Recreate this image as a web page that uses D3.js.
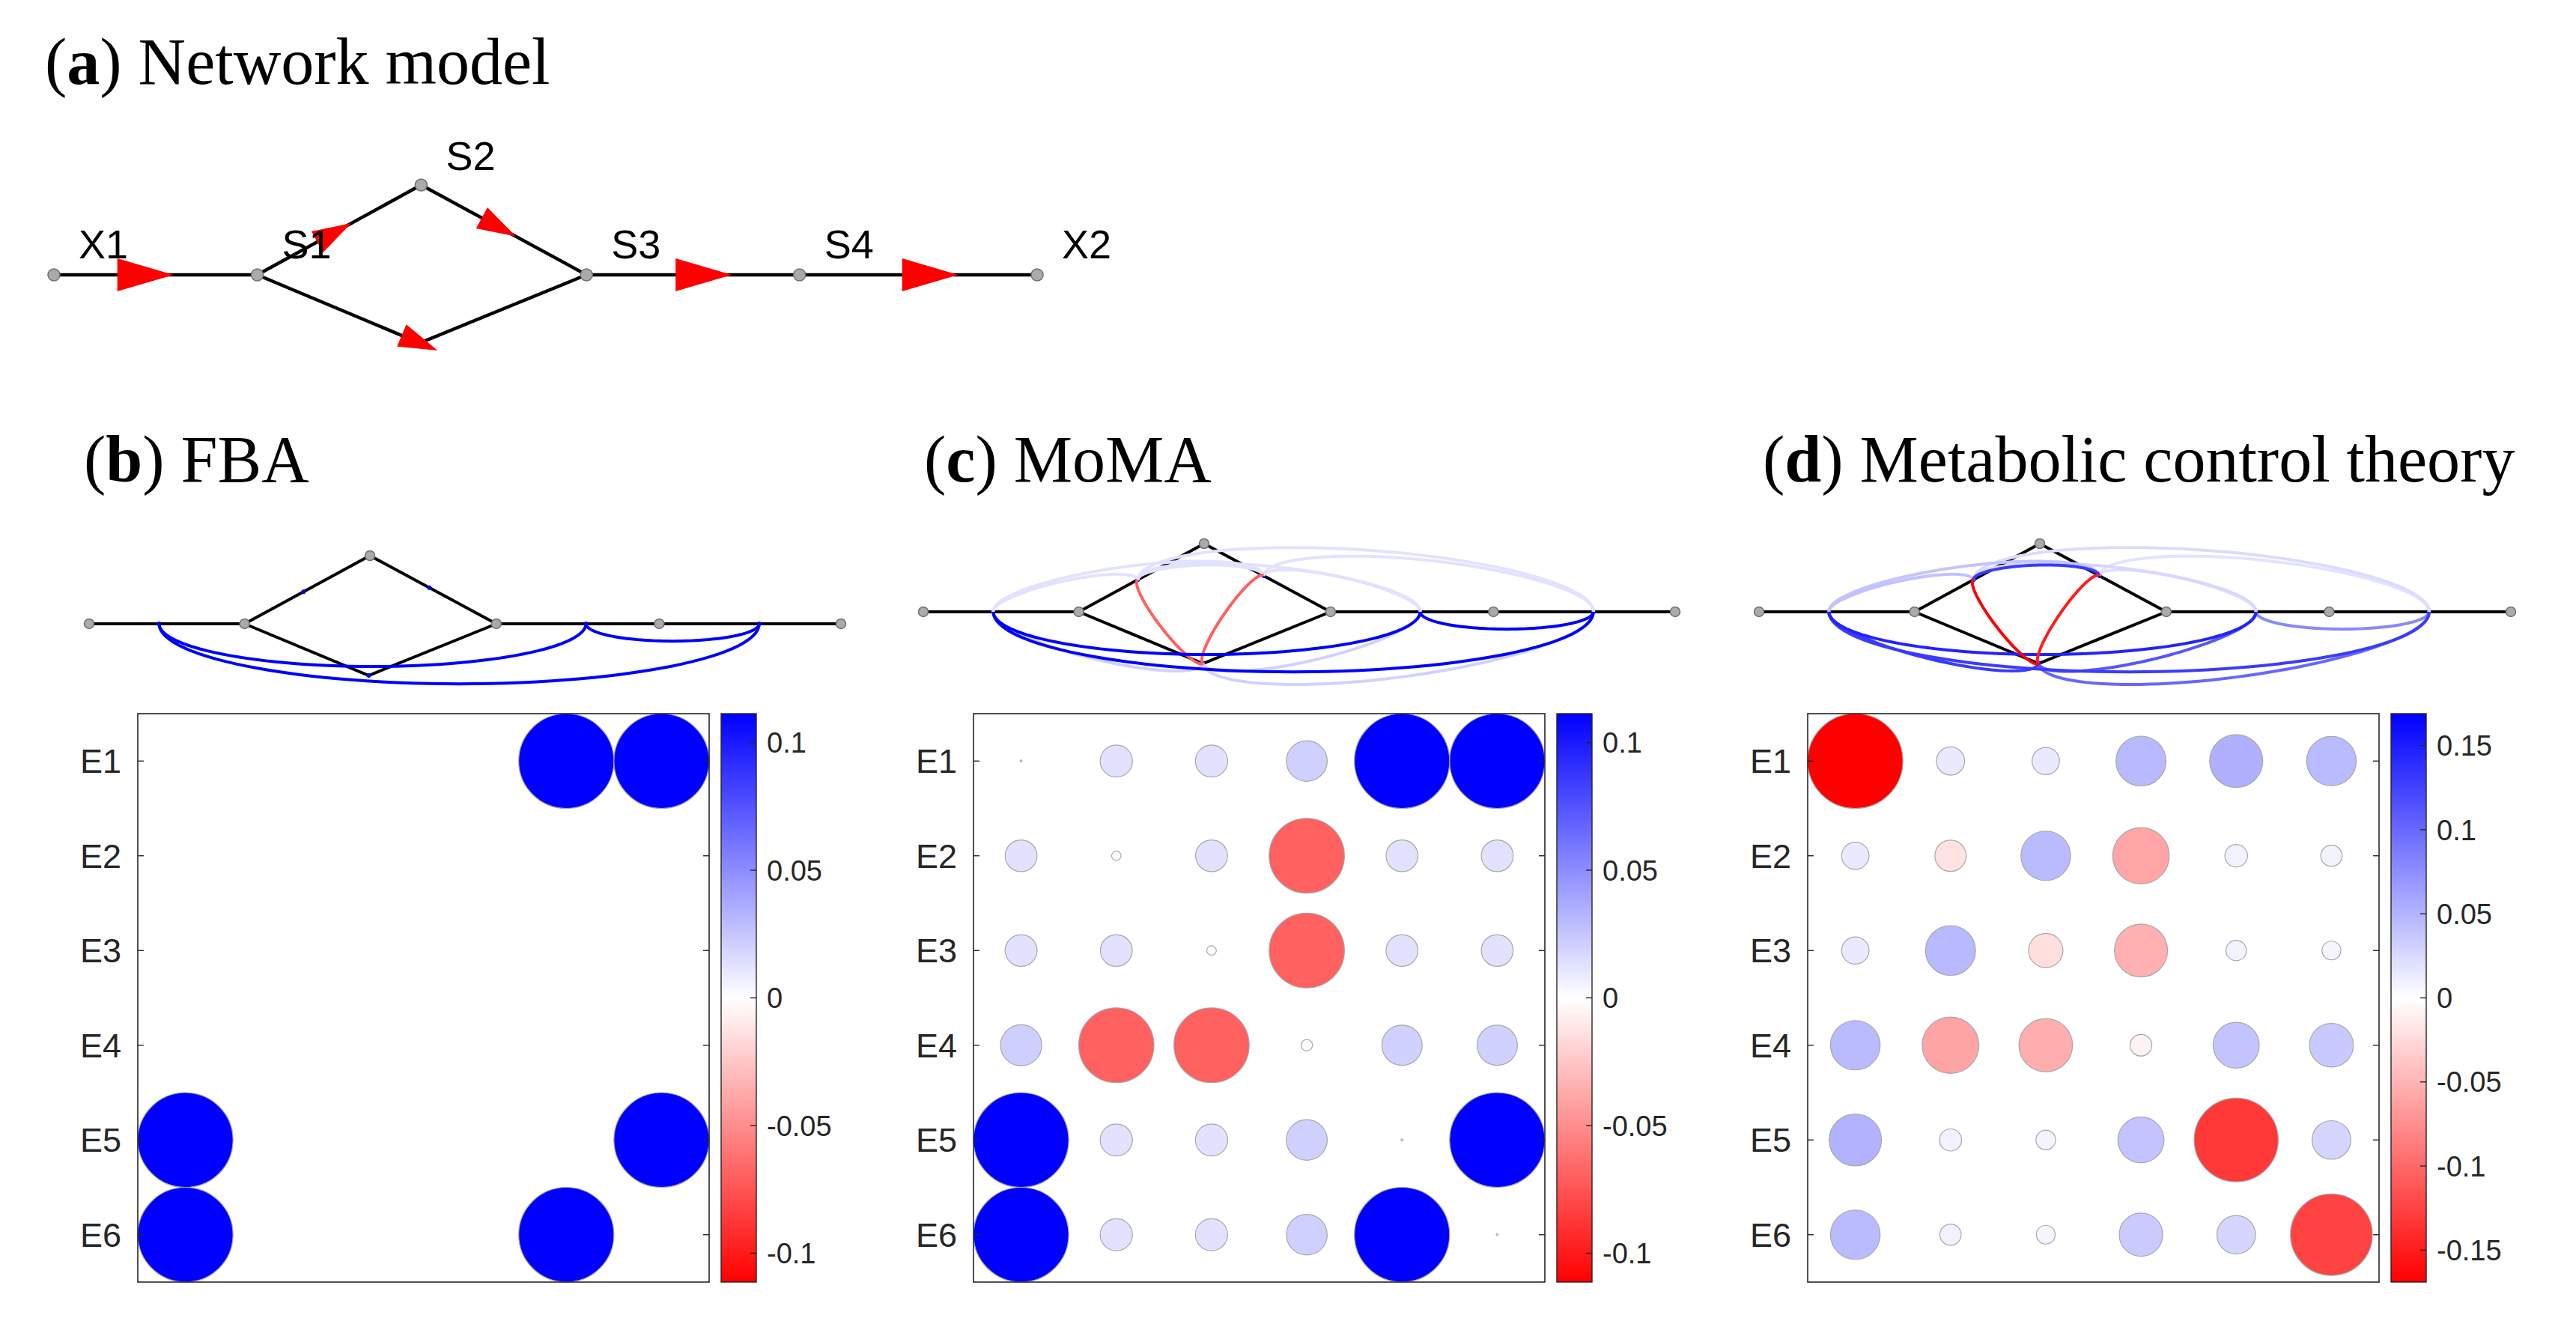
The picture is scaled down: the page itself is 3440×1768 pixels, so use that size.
<!DOCTYPE html>
<html>
<head>
<meta charset="utf-8">
<script src="https://cdn.jsdelivr.net/npm/d3@7"></script>
<style>
body { margin: 0; background: #fff; }
text { font-family: "Liberation Sans", Arial, sans-serif; }
.title { font-family: "Liberation Serif", "Times New Roman", serif; }
</style>
</head>
<body>
<svg id="fig" width="3440" height="1768"></svg>
<script>
// network layout (layout units, X1 at origin); B is the hidden bend of E4
var nodeNames = ["X1", "S1", "S2", "S3", "S4", "X2", "B"];
var nodeX = [0, 273, 493, 715, 1001, 1320, 491];
var nodeY = [0, 0, -120, 0, 0, 0, 91];
var nodeShown = [true, true, true, true, true, true, false];

var reactions = ["E1", "E2", "E3", "E4", "E5", "E6"];
var reactionPath = [["X1","S1"], ["S1","S2"], ["S2","S3"], ["S1","B","S3"], ["S3","S4"], ["S4","X2"]];
// where the arrow / arc anchor sits along the first segment of each reaction
var reactionPos = [0.45, 0.47, 0.47, 1, 0.55, 0.55];

// correlation matrices (rows E1..E6, columns E1..E6)
var fba = [
  [0, 0, 0, 0, 0.1113, 0.1113],
  [0, 0, 0, 0, 0, 0],
  [0, 0, 0, 0, 0, 0],
  [0, 0, 0, 0, 0, 0],
  [0.1113, 0, 0, 0, 0, 0.1113],
  [0.1113, 0, 0, 0, 0.1113, 0]
];
var moma = [
  [0.00005, 0.0128, 0.0128, 0.0205, 0.1113, 0.1113],
  [0.0125, 0.0011, 0.0125, -0.0695, 0.0125, 0.0125],
  [0.0125, 0.0125, 0.0011, -0.0695, 0.0125, 0.0125],
  [0.0209, -0.0695, -0.0695, 0.0016, 0.0200, 0.0200],
  [0.1113, 0.0128, 0.0128, 0.0205, 0.00005, 0.1113],
  [0.1113, 0.0128, 0.0128, 0.0205, 0.1113, 0.00005]
];
var mct = [
  [-0.169, 0.0149, 0.0140, 0.0467, 0.0526, 0.0459],
  [0.0140, -0.0183, 0.0460, -0.0597, 0.0096, 0.0085],
  [0.0140, 0.0467, -0.0220, -0.0526, 0.0078, 0.0066],
  [0.0460, -0.0600, -0.0535, -0.0088, 0.0397, 0.0360],
  [0.0509, 0.0092, 0.0072, 0.0397, -0.1316, 0.0280],
  [0.0460, 0.0085, 0.0066, 0.0353, 0.0278, -0.1250]
];
var climBC = 0.1113, climD = 0.169;
var ticksBC = [0.1, 0.05, 0, -0.05, -0.1];
var ticksD = [0.15, 0.1, 0.05, 0, -0.05, -0.1, -0.15];

var panelLetters = ["b", "c", "d"];
var panelNames = ["FBA", "MoMA", "Metabolic control theory"];

var svg = d3.select("#fig");
var ink = "#262626";

function redBlue(lim) {
  return d3.scaleLinear().domain([-lim, 0, lim]).range(["#ff0000", "#ffffff", "#0000ff"]).clamp(true);
}

function nodePt(name, sx, sy) {
  var i = nodeNames.indexOf(name);
  return [sx(nodeX[i]), sy(nodeY[i])];
}
function anchor(r, sx, sy) {
  var a = nodePt(reactionPath[r][0], sx, sy), b = nodePt(reactionPath[r][1], sx, sy), t = reactionPos[r];
  return [a[0] + (b[0] - a[0]) * t, a[1] + (b[1] - a[1]) * t];
}

function title(x, y, letter, name) {
  var t = svg.append("text").attr("class", "title").attr("x", x).attr("y", y)
    .attr("font-size", 88).attr("fill", "#000");
  t.append("tspan").text("(");
  t.append("tspan").attr("font-weight", "bold").text(letter);
  t.append("tspan").text(") " + name);
}

function drawEdges(g, sx, sy, w) {
  reactionPath.forEach(function(p) {
    g.append("path")
      .attr("d", d3.line()(p.map(function(n) { return nodePt(n, sx, sy); })))
      .attr("fill", "none").attr("stroke", "#000").attr("stroke-width", w)
      .attr("stroke-linejoin", "miter");
  });
}

function drawNodes(g, sx, sy, r) {
  g.selectAll("circle.node").data(nodeNames.filter(function(n, i) { return nodeShown[i]; }))
    .enter().append("circle").attr("class", "node")
    .attr("cx", function(n) { return nodePt(n, sx, sy)[0]; })
    .attr("cy", function(n) { return nodePt(n, sx, sy)[1]; })
    .attr("r", r).attr("fill", "#aaaaaa").attr("stroke", "#707070").attr("stroke-width", 1.5);
}

// ---------- (a) network model ----------
title(60, 112, "a", "Network model");
var axA = d3.scaleLinear().domain([0, 1320]).range([72, 1385]);
var ayA = d3.scaleLinear().domain([-120, 91]).range([247, 458]);
var gA = svg.append("g");
drawEdges(gA, axA, ayA, 4.5);
reactionPath.forEach(function(p, r) {
  var a = nodePt(p[0], axA, ayA), b = nodePt(p[1], axA, ayA);
  var dx = b[0] - a[0], dy = b[1] - a[1], L = Math.hypot(dx, dy), ux = dx / L, uy = dy / L;
  var c = anchor(r, axA, ayA);
  var big = Math.abs(uy) < 0.01;
  var len = big ? 75 : 52, hw = big ? 22 : 16;
  var pts = [
    [c[0] + ux * len / 2, c[1] + uy * len / 2],
    [c[0] - ux * len / 2 - uy * hw, c[1] - uy * len / 2 + ux * hw],
    [c[0] - ux * len / 2 + uy * hw, c[1] - uy * len / 2 - ux * hw]
  ];
  gA.append("path").attr("d", "M" + pts.join("L") + "Z").attr("fill", "#ff0000");
});
drawNodes(gA, axA, ayA, 8);
gA.selectAll("text.lab").data(nodeNames.filter(function(n, i) { return nodeShown[i]; }))
  .enter().append("text").attr("class", "lab")
  .attr("x", function(n) { return nodePt(n, axA, ayA)[0] + 33; })
  .attr("y", function(n) { return nodePt(n, axA, ayA)[1] - (n === "S2" ? 20 : 22); })
  .attr("font-size", 54).attr("fill", "#000")
  .text(function(n) { return n; });

// ---------- (b)(c)(d) ----------
var mats = [fba, moma, mct];
var clims = [climBC, climBC, climD];
var tickSets = [ticksBC, ticksBC, ticksD];
var frameX = [184, 1300, 2414];
var netX0 = [119, 1233, 2349];
var netY = [833, 817, 817];
var titleX = [112, 1234, 2354];
var frameTop = 953, frameH = 759, frameW = 763;

mats.forEach(function(M, k) {
  title(titleX[k], 643, panelLetters[k], panelNames[k]);

  // small network with coupling arcs
  var sx = d3.scaleLinear().domain([0, 1320]).range([netX0[k], netX0[k] + 1004]);
  var sy = d3.scaleLinear().domain([-120, 91]).range([netY[k] - 91, netY[k] + 69]);
  var g = svg.append("g");
  drawEdges(g, sx, sy, 4);

  var anchors = reactions.map(function(e, r) { return anchor(r, sx, sy); });
  var cen = [d3.mean(anchors, function(p) { return p[0]; }), d3.mean(anchors, function(p) { return p[1]; })];
  var pairs = [];
  for (var i = 0; i < 6; i++) for (var j = i + 1; j < 6; j++) {
    var v = (M[i][j] + M[j][i]) / 2;
    if (Math.abs(v) > 1e-4) pairs.push({i: i, j: j, v: v});
  }
  var amax = d3.max(pairs, function(p) { return Math.abs(p.v); });
  var arcCol = redBlue(amax);
  pairs.sort(function(a, b) { return Math.abs(a.v) - Math.abs(b.v); });

  g.selectAll("circle.anc").data(anchors).enter().append("circle")
    .attr("cx", function(p) { return p[0]; }).attr("cy", function(p) { return p[1]; })
    .attr("r", 3).attr("fill", "#0000ff");

  g.selectAll("path.arc").data(pairs).enter().append("path").attr("class", "arc")
    .attr("d", function(d) {
      var p = anchors[d.i], q = anchors[d.j];
      var dx = q[0] - p[0], dy = q[1] - p[1], L = Math.hypot(dx, dy);
      var ux = dx / L, uy = dy / L, nx = -uy, ny = ux;
      var mx = (p[0] + q[0]) / 2, my = (p[1] + q[1]) / 2;
      if (nx * (mx - cen[0]) + ny * (my - cen[1]) < 0) { nx = -nx; ny = -ny; }
      var a = L / 2, b = 0.2 * a;
      return d3.line()(d3.range(61).map(function(s) {
        var t = Math.PI * s / 60;
        return [mx - ux * a * Math.cos(t) + nx * b * Math.sin(t), my - uy * a * Math.cos(t) + ny * b * Math.sin(t)];
      }));
    })
    .attr("fill", "none").attr("stroke", function(d) { return arcCol(d.v); })
    .attr("stroke-width", 4);
  drawNodes(g, sx, sy, 6.5);

  // bubble matrix
  var clim = clims[k], col = redBlue(clim);
  var x = d3.scaleBand().domain(reactions).range([frameX[k], frameX[k] + frameW]);
  var y = d3.scaleBand().domain(reactions).range([frameTop, frameTop + frameH]);
  var size = d3.scaleSqrt().domain([0, clim]).range([0, 1]).clamp(true);
  var cells = [];
  M.forEach(function(row, r) { row.forEach(function(v, c) { if (v !== 0) cells.push({r: r, c: c, v: v}); }); });

  var gm = svg.append("g");
  gm.selectAll("ellipse").data(cells).enter().append("ellipse")
    .attr("cx", function(d) { return x(reactions[d.c]) + x.bandwidth() / 2; })
    .attr("cy", function(d) { return y(reactions[d.r]) + y.bandwidth() / 2; })
    .attr("rx", function(d) { return size(Math.abs(d.v)) * x.bandwidth() / 2; })
    .attr("ry", function(d) { return size(Math.abs(d.v)) * y.bandwidth() / 2; })
    .attr("fill", function(d) { return col(d.v); })
    .attr("stroke", "#a8a8a8").attr("stroke-width", 1.2);

  gm.append("rect").attr("x", frameX[k]).attr("y", frameTop).attr("width", frameW).attr("height", frameH)
    .attr("fill", "none").attr("stroke", ink).attr("stroke-width", 1.6);

  reactions.forEach(function(e) {
    var yy = y(e) + y.bandwidth() / 2;
    gm.append("line").attr("x1", frameX[k]).attr("x2", frameX[k] + 8).attr("y1", yy).attr("y2", yy)
      .attr("stroke", ink).attr("stroke-width", 1.4);
    gm.append("line").attr("x1", frameX[k] + frameW - 8).attr("x2", frameX[k] + frameW).attr("y1", yy).attr("y2", yy)
      .attr("stroke", ink).attr("stroke-width", 1.4);
    gm.append("text").attr("x", frameX[k] - 22).attr("y", yy).attr("dy", "0.36em")
      .attr("text-anchor", "end").attr("font-size", 45).attr("fill", ink).text(e);
  });

  // colorbar
  var cbX = frameX[k] + frameW + 16, cbW = 47;
  var gradId = "grad" + k;
  var grad = svg.append("defs").append("linearGradient").attr("id", gradId)
    .attr("x1", 0).attr("y1", 1).attr("x2", 0).attr("y2", 0);
  d3.range(0, 1.0001, 0.05).forEach(function(t) {
    grad.append("stop").attr("offset", t).attr("stop-color", col(-clim + 2 * clim * t));
  });
  var cy = d3.scaleLinear().domain([-clim, clim]).range([frameTop + frameH, frameTop]);
  gm.append("rect").attr("x", cbX).attr("y", frameTop).attr("width", cbW).attr("height", frameH)
    .attr("fill", "url(#" + gradId + ")").attr("stroke", ink).attr("stroke-width", 1.4);
  tickSets[k].forEach(function(t) {
    gm.append("line").attr("x1", cbX + cbW - 8).attr("x2", cbX + cbW).attr("y1", cy(t)).attr("y2", cy(t))
      .attr("stroke", ink).attr("stroke-width", 1.4);
    gm.append("text").attr("x", cbX + cbW + 14).attr("y", cy(t)).attr("dy", "0.36em")
      .attr("font-size", 38).attr("fill", ink).text(String(t));
  });
});
</script>
</body>
</html>
